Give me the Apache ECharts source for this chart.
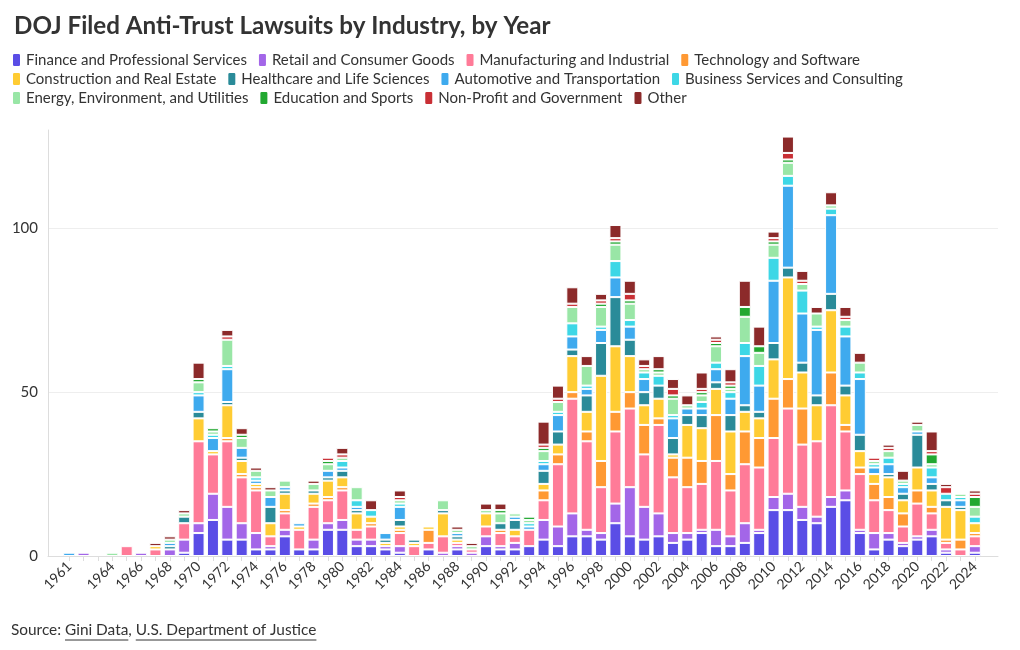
<!DOCTYPE html>
<html><head><meta charset="utf-8">
<script src="https://cdn.jsdelivr.net/npm/echarts@6/dist/echarts.min.js"></script>
<style>html,body{margin:0;padding:0;background:#fff}#c{width:1020px;height:650px}</style>
</head><body><div id="c"></div>
<script>
const years = ['1961','1962','1963','1964','1965','1966','1967','1968','1969','1970','1971','1972','1973','1974','1975','1976','1977','1978','1979','1980','1981','1982','1983','1984','1985','1986','1987','1988','1989','1990','1991','1992','1993','1994','1995','1996','1997','1998','1999','2000','2001','2002','2003','2004','2005','2006','2007','2008','2009','2010','2011','2012','2013','2014','2015','2016','2017','2018','2019','2020','2021','2022','2023','2024'];
const seriesNames = ['Finance and Professional Services','Retail and Consumer Goods','Manufacturing and Industrial','Technology and Software','Construction and Real Estate','Healthcare and Life Sciences','Automotive and Transportation','Business Services and Consulting','Energy, Environment, and Utilities','Education and Sports','Non-Profit and Government','Other'];
const colors = ['#5a4de6','#a366e8','#ff7b98','#ff9933','#ffcc33','#2a8b99','#3eaaee','#3dd7e6','#99e6a6','#22a831','#c92f35','#8c2a2a'];
const yTicks = [0, 50, 100];

const finance       = [0,0,0,0,0,0,0,0,1,7,11,5,5,2,2,6,2,2,8,8,3,3,2,1,0,2,0,2,0,3,2,2,3,5,3,6,6,5,10,6,5,6,4,5,7,3,3,4,7,14,14,11,10,15,17,7,2,5,3,5,6,1,0,1];
const retail        = [0,1,0,0,0,1,0,2,4,3,8,10,5,5,1,2,0,3,2,3,2,2,1,2,0,0,1,1,1,3,1,2,0,6,6,7,2,2,6,15,10,7,3,2,1,5,3,6,1,4,5,4,2,3,3,1,5,2,1,1,2,1,0,2];
const manufacturing = [0,0,0,0,3,0,2,0,5,25,12,20,14,13,3,5,6,10,7,9,3,4,0,4,3,2,5,1,1,3,4,2,5,6,19,35,27,14,22,24,16,27,17,14,14,21,14,18,19,18,26,19,23,28,18,17,10,7,5,10,5,2,2,3];
const technology    = [0,0,0,0,0,0,0,0,0,0,0,1,1,1,0,1,0,1,1,1,0,1,0,1,0,4,0,0,0,0,1,0,0,3,3,2,3,8,6,5,9,2,6,9,7,14,5,10,9,12,9,11,0,10,2,2,5,4,4,4,2,1,3,1];
const construction  = [0,0,0,0,0,0,1,0,0,7,1,10,4,1,4,5,1,3,5,3,5,2,1,1,1,1,7,1,0,4,0,2,0,2,3,11,6,26,20,11,6,6,1,10,10,8,13,6,6,12,31,11,11,19,9,5,3,6,4,7,5,10,9,3];
const healthcare    = [0,0,0,0,0,0,0,1,2,2,0,1,1,0,5,1,0,1,1,2,1,0,1,2,1,0,1,1,0,0,2,3,0,4,4,2,5,10,15,5,4,4,5,3,4,2,5,2,2,5,3,3,3,5,3,5,0,1,2,10,2,2,1,0];
const automotive    = [1,0,0,0,0,0,0,1,0,5,4,10,3,1,3,1,1,0,2,1,1,0,2,4,0,0,0,1,0,0,0,1,1,2,5,4,2,4,6,4,4,0,6,2,2,4,5,15,8,19,25,15,20,24,15,17,2,3,2,1,2,0,2,0];
const business      = [0,0,0,0,0,0,0,0,0,1,1,1,0,1,0,0,0,0,0,2,2,2,0,1,0,0,0,0,0,0,0,0,1,1,1,4,1,1,5,2,2,3,1,0,2,2,2,4,6,7,3,7,1,2,3,2,1,2,1,0,3,2,1,2];
const energy        = [0,0,0,1,0,0,0,1,1,3,1,8,3,2,2,2,0,2,2,1,4,0,0,1,0,0,3,1,1,1,3,1,1,3,3,5,6,6,5,5,1,1,5,1,2,5,1,8,4,4,4,2,4,1,2,3,1,2,1,2,1,0,1,3];
const education     = [0,0,0,0,0,0,0,0,0,1,1,0,1,0,0,0,0,0,1,0,0,0,0,0,0,0,0,0,0,0,1,0,1,1,0,0,0,1,1,1,0,1,1,0,1,1,1,3,2,1,1,0,0,0,0,0,0,0,0,0,3,0,0,3];
const nonProfit     = [0,0,0,0,0,0,0,0,0,0,0,1,0,0,0,0,0,0,1,1,0,0,0,1,0,0,0,0,0,0,0,0,0,1,1,1,0,1,1,2,1,0,2,0,1,1,1,0,0,1,2,1,0,0,1,0,1,1,0,0,1,2,0,1];
const other         = [0,0,0,0,0,0,1,1,1,5,0,2,2,1,1,0,0,1,0,2,0,3,0,2,0,0,0,1,1,2,2,0,0,7,4,5,3,2,4,4,2,4,3,3,5,1,4,8,6,2,5,3,2,4,3,3,0,1,3,1,6,1,0,1];

const allData = [finance, retail, manufacturing, technology, construction, healthcare, automotive, business, energy, education, nonProfit, other];

const FONT = 'Lato';
const chart = echarts.init(document.getElementById('c'), null, {renderer: 'canvas'});

const series = seriesNames.map((name, i) => ({
  name, type: 'bar', stack: 'total',
  xAxisIndex: 1, yAxisIndex: 1,
  data: allData[i].map(v => v === 0 ? '-' : v),
  barWidth: 12,
  itemStyle: {color: colors[i], borderColor: '#fff', borderWidth: 1},
  emphasis: {disabled: true}
}));

function legendRow(names, top) {
  return {
    data: names, left: 11, top, orient: 'horizontal', padding: 0,
    icon: 'roundRect', itemWidth: 9, itemHeight: 14, itemGap: 10,
    textStyle: {fontFamily: FONT, fontSize: 15, color: '#333'},
    selectedMode: false
  };
}

const SRC_FONT = '15.4px ' + FONT;
const mc = document.createElement('canvas').getContext('2d');
mc.font = SRC_FONT;
const srcPrefix = 'Source: ';
const link1 = 'Gini Data';
const sep = ', ';
const link2 = 'U.S. Department of Justice';
const x0 = 11;
const w0 = mc.measureText(srcPrefix).width;
const w1 = mc.measureText(link1).width;
const ws = mc.measureText(sep).width;
const w2 = mc.measureText(link2).width;
const ty = 623, uy = 640;

const yMax = 130;

chart.setOption({
  animation: false,
  title: {
    text: 'DOJ Filed Anti-Trust Lawsuits by Industry, by Year',
    left: 9, top: 9,
    textStyle: {fontFamily: FONT, fontSize: 24.2, fontWeight: 'bold', color: '#333'}
  },
  legend: [
    legendRow(seriesNames.slice(0, 4), 52),
    legendRow(seriesNames.slice(4, 8), 71),
    legendRow(seriesNames.slice(8, 12), 90)
  ],
  grid: [
    {left: 48, right: 22, top: 130, bottom: 94},
    {left: 62, right: 38, top: 130, bottom: 94}
  ],
  xAxis: [
    {type: 'value', gridIndex: 0, min: 0, max: 1,
      axisLine: {show: true, onZero: false, lineStyle: {color: '#ddd'}},
      axisTick: {show: false}, axisLabel: {show: false}, splitLine: {show: false}},
    {type: 'category', gridIndex: 1, data: years,
      axisLine: {show: false},
      axisTick: {show: true, alignWithLabel: true, interval: 0, length: 5, lineStyle: {color: '#ddd'}},
      axisLabel: {
        rotate: 45, fontFamily: FONT, fontSize: 14, color: '#333', margin: 8,
        interval: (idx, val) => val === '1961' || (+val >= 1964 && (+val) % 2 === 0)
      }}
  ],
  yAxis: [
    {type: 'value', gridIndex: 0, min: 0, max: yMax, interval: 50,
      axisLine: {show: true, lineStyle: {color: '#ddd'}},
      axisTick: {show: false},
      axisLabel: {fontFamily: FONT, fontSize: 15, color: '#333', margin: 10,
        formatter: v => yTicks.includes(v) ? String(v) : '', showMaxLabel: false},
      splitLine: {show: true, showMaxLine: false, showMinLine: false, lineStyle: {color: '#eee'}}},
    {type: 'value', gridIndex: 1, min: 0, max: yMax, interval: 50, show: false,
      splitLine: {show: false}}
  ],
  graphic: [
    {type: 'text', left: x0, top: ty, style: {text: srcPrefix, font: SRC_FONT, fill: '#333'}},
    {type: 'text', left: x0 + w0, top: ty, style: {text: link1, font: SRC_FONT, fill: '#333'}},
    {type: 'line', shape: {x1: x0 + w0, y1: uy, x2: x0 + w0 + w1, y2: uy}, style: {stroke: '#333', lineWidth: 1}},
    {type: 'text', left: x0 + w0 + w1, top: ty, style: {text: sep, font: SRC_FONT, fill: '#333'}},
    {type: 'text', left: x0 + w0 + w1 + ws, top: ty, style: {text: link2, font: SRC_FONT, fill: '#333'}},
    {type: 'line', shape: {x1: x0 + w0 + w1 + ws, y1: uy, x2: x0 + w0 + w1 + ws + w2, y2: uy}, style: {stroke: '#333', lineWidth: 1}}
  ],
  series
});
</script></body></html>
